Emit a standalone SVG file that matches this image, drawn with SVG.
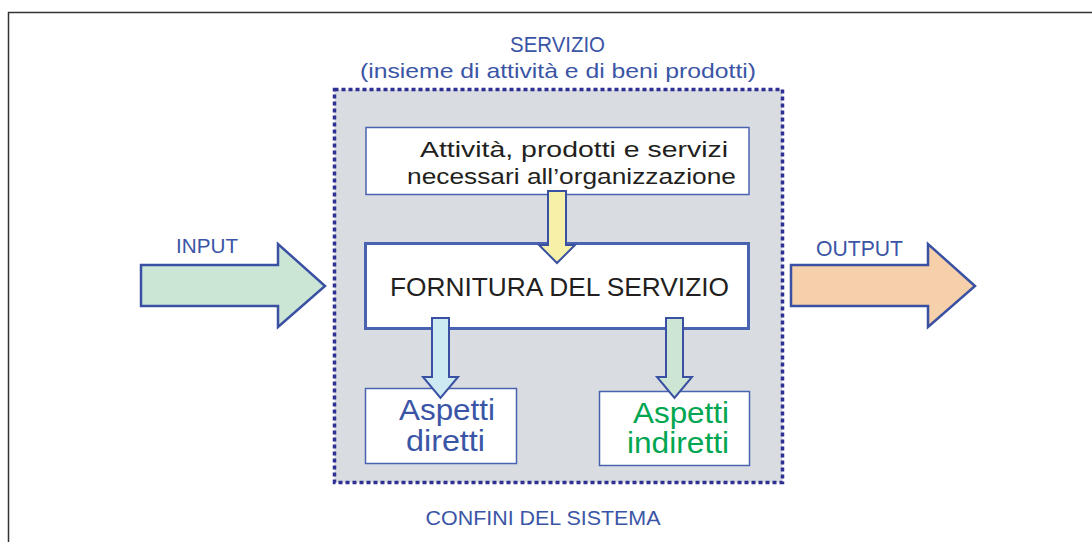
<svg xmlns="http://www.w3.org/2000/svg" width="1092" height="542" viewBox="0 0 1092 542">
<style>
.t{font-family:"Liberation Sans","DejaVu Sans",sans-serif}
.blue{fill:#3b55a6}
.dark{fill:#231f20}
.box{fill:#ffffff;stroke:#4a63b0}
.arr{stroke:#3a51a3;stroke-width:2.5;stroke-linejoin:miter}
.small{stroke-width:2}
</style>
<rect width="1092" height="542" fill="#ffffff"/>
<path d="M8.5 542 V12.5 H1092" fill="none" stroke="#333333" stroke-width="1.5"/>
<g id="sistema">
<rect x="334.5" y="89.5" width="448" height="393" fill="#d9dce0" stroke="#2e3192" stroke-width="3.5" stroke-dasharray="4 3"/>
<text class="t blue" x="557.5" y="52" font-size="22" text-anchor="middle" textLength="95" lengthAdjust="spacingAndGlyphs">SERVIZIO</text>
<text class="t blue" x="558" y="78" font-size="21" text-anchor="middle" textLength="396" lengthAdjust="spacingAndGlyphs">(insieme di attività e di beni prodotti)</text>
<text class="t blue" x="543" y="525" font-size="21" text-anchor="middle" textLength="235" lengthAdjust="spacingAndGlyphs">CONFINI DEL SISTEMA</text>
</g>
<g id="input">
<polygon class="arr" points="141,265 278,265 278,244 325,286 278,327 278,306 141,306" fill="#cce6d6"/>
<text class="t blue" x="176" y="253" font-size="21" textLength="62" lengthAdjust="spacingAndGlyphs">INPUT</text>
</g>
<g id="output">
<polygon class="arr" points="791,265 928,265 928,244 975,286 928,327 928,306 791,306" fill="#f5d0aa"/>
<text class="t blue" x="816" y="256" font-size="22" textLength="87" lengthAdjust="spacingAndGlyphs">OUTPUT</text>
</g>
<g id="attivita">
<rect class="box" x="366" y="127.5" width="383" height="67" stroke-width="1.5"/>
<text class="t dark" x="420" y="157" font-size="22" textLength="308" lengthAdjust="spacingAndGlyphs">Attività, prodotti e servizi</text>
<text class="t dark" x="407" y="184" font-size="22" textLength="329" lengthAdjust="spacingAndGlyphs">necessari all’organizzazione</text>
</g>
<g id="fornitura">
<rect class="box" x="365.5" y="243.5" width="383" height="85" stroke-width="3"/>
<text class="t dark" x="390" y="296" font-size="26" textLength="339" lengthAdjust="spacingAndGlyphs">FORNITURA DEL SERVIZIO</text>
</g>
<g id="diretti">
<rect class="box" x="365.5" y="388.5" width="151" height="75" stroke-width="1.5"/>
<text class="t blue" x="399" y="420" font-size="29" textLength="96" lengthAdjust="spacingAndGlyphs">Aspetti</text>
<text class="t blue" x="406" y="451" font-size="29" textLength="79" lengthAdjust="spacingAndGlyphs">diretti</text>
</g>
<g id="indiretti">
<rect class="box" x="599.5" y="391.5" width="150" height="74" stroke-width="1.5"/>
<text class="t" fill="#00a651" x="633" y="423" font-size="29" textLength="96" lengthAdjust="spacingAndGlyphs">Aspetti</text>
<text class="t" fill="#00a651" x="627" y="453" font-size="29" textLength="102" lengthAdjust="spacingAndGlyphs">indiretti</text>
</g>
<g id="connectors">
<polygon class="arr small" points="548,191 566,191 566,245 575,245 557,263 539,245 548,245" fill="#f7f0a8"/>
<polygon class="arr small" points="432,318 449,318 449,377 458,377 440.5,398 423,377 432,377" fill="#cde9f2"/>
<polygon class="arr small" points="666,318 683,318 683,377 692,377 674.5,398 657,377 666,377" fill="#cde5d3"/>
</g>
</svg>
